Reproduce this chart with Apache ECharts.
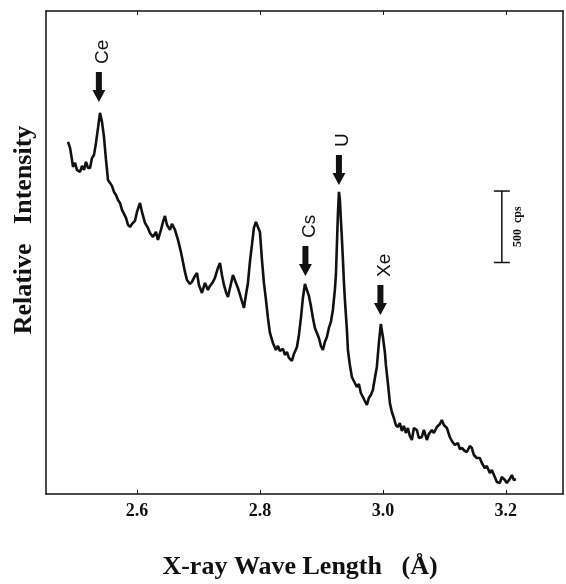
<!DOCTYPE html>
<html>
<head>
<meta charset="utf-8">
<script src="https://cdn.jsdelivr.net/npm/echarts@6/dist/echarts.min.js"></script>
<style>
  html, body { margin: 0; padding: 0; background: #fff; }
  #chart { width: 566px; height: 584px; }
</style>
</head>
<body>
<div id="chart"></div>
<script>
// X-ray wavelength (Å)
const wavelength = [
  2.4878, 2.4911, 2.4943, 2.4959, 2.4992, 2.5024, 2.5073, 2.5106, 2.5138, 2.5171,
  2.5203, 2.5236, 2.5268, 2.5301, 2.5333, 2.5366, 2.5398, 2.5431, 2.5463, 2.5496,
  2.5528, 2.5561, 2.5593, 2.5626, 2.5659, 2.5691, 2.5724, 2.5756, 2.5789, 2.5821,
  2.5854, 2.5886, 2.5919, 2.5967, 2.6000, 2.6049, 2.6081, 2.6130, 2.6179, 2.6211,
  2.6260, 2.6309, 2.6341, 2.6390, 2.6423, 2.6455, 2.6488, 2.6537, 2.6569, 2.6618,
  2.6667, 2.6715, 2.6748, 2.6780, 2.6813, 2.6862, 2.6894, 2.6943, 2.6976, 2.7008,
  2.7057, 2.7106, 2.7154, 2.7187, 2.7236, 2.7268, 2.7317, 2.7350, 2.7382, 2.7415,
  2.7447, 2.7480, 2.7528, 2.7561, 2.7610, 2.7642, 2.7691, 2.7740, 2.7772, 2.7805,
  2.7837, 2.7870, 2.7902, 2.7935, 2.7967, 2.8000, 2.8033, 2.8065, 2.8098, 2.8130,
  2.8163, 2.8211, 2.8260, 2.8293, 2.8325, 2.8374, 2.8406, 2.8439, 2.8472, 2.8520,
  2.8553, 2.8602, 2.8634, 2.8667, 2.8699, 2.8732, 2.8764, 2.8797, 2.8829, 2.8862,
  2.8894, 2.8927, 2.8959, 2.8992, 2.9024, 2.9057, 2.9089, 2.9122, 2.9154, 2.9187,
  2.9219, 2.9236, 2.9252, 2.9268, 2.9285, 2.9301, 2.9317, 2.9333, 2.9350, 2.9366,
  2.9382, 2.9415, 2.9431, 2.9463, 2.9496, 2.9528, 2.9577, 2.9610, 2.9642, 2.9675,
  2.9707, 2.9740, 2.9772, 2.9805, 2.9837, 2.9870, 2.9902, 2.9935, 2.9967, 3.0000,
  3.0032, 3.0049, 3.0081, 3.0114, 3.0146, 3.0179, 3.0211, 3.0244, 3.0276, 3.0309,
  3.0341, 3.0374, 3.0406, 3.0439, 3.0472, 3.0504, 3.0553, 3.0585, 3.0634, 3.0667,
  3.0715, 3.0748, 3.0797, 3.0829, 3.0878, 3.0927, 3.0959, 3.0992, 3.1041, 3.1089,
  3.1122, 3.1171, 3.1219, 3.1252, 3.1285, 3.1333, 3.1366, 3.1415, 3.1447, 3.1480,
  3.1528, 3.1577, 3.1610, 3.1658, 3.1691, 3.1740, 3.1772, 3.1821, 3.1854, 3.1902,
  3.1935, 3.1984, 3.2016, 3.2065, 3.2098, 3.2130, 3.2163
];

// relative intensity (cps)
const intensity = [
  2464, 2422, 2338, 2289, 2317, 2268, 2254, 2296, 2268, 2324,
  2282, 2282, 2352, 2373, 2457, 2562, 2667, 2604, 2499, 2338,
  2198, 2177, 2156, 2114, 2093, 2058, 2037, 1988, 1960, 1932,
  1883, 1869, 1890, 1911, 1974, 2037, 1974, 1897, 1862, 1827,
  1799, 1834, 1778, 1848, 1904, 1946, 1883, 1848, 1890, 1848,
  1778, 1694, 1624, 1554, 1498, 1470, 1484, 1526, 1547, 1463,
  1407, 1477, 1428, 1456, 1484, 1512, 1582, 1617, 1533, 1463,
  1414, 1379, 1470, 1533, 1477, 1442, 1372, 1302, 1393, 1477,
  1624, 1743, 1862, 1904, 1869, 1834, 1638, 1477, 1358, 1232,
  1127, 1057, 1008, 1036, 1001, 1015, 973, 994, 952, 931,
  980, 1029, 1113, 1232, 1372, 1470, 1428, 1386, 1316, 1232,
  1162, 1127, 1092, 1036, 1008, 1064, 1099, 1162, 1204, 1288,
  1428, 1533, 1743, 1953, 2114, 2058, 1918, 1792, 1638, 1484,
  1358, 1148, 1008, 903, 819, 791, 749, 770, 707, 679,
  651, 623, 672, 693, 728, 812, 889, 1057, 1190, 1099,
  994, 903, 777, 637, 574, 532, 483, 469, 497, 441,
  476, 427, 462, 406, 378, 462, 448, 392, 399, 448,
  378, 420, 448, 427, 469, 490, 518, 483, 462, 399,
  371, 343, 357, 315, 322, 301, 294, 336, 322, 273,
  252, 252, 217, 182, 196, 147, 168, 119, 84, 77,
  119, 98, 77, 105, 133, 98, 105
];

// element peaks: name, wavelength, arrow tip intensity
const peakNames = ['Ce', 'Cs', 'U', 'Xe'];
const peakX = [2.538, 2.874, 2.9285, 2.996];
const arrowTipY = [2744, 1526, 2163, 1253];

// scale bar (500 cps)
const scaleBarX = [3.1935];
const scaleBarFrom = [1620];
const scaleBarTo = [2120];

const tickValues = [2.6, 2.8, 3.0, 3.2];

const chart = echarts.init(document.getElementById('chart'));

const serif = '"Liberation Serif", "Times New Roman", serif';
const sans = '"Liberation Sans", Arial, sans-serif';

const lineData = wavelength.map((w, i) => [w, intensity[i]]);
const arrowData = peakNames.map((n, i) => [peakX[i], arrowTipY[i], n]);
const barData = scaleBarX.map((x, i) => [x, scaleBarFrom[i], scaleBarTo[i]]);

function renderArrow(params, api) {
    const tip = api.coord([api.value(0), api.value(1)]);
    const name = peakNames[params.dataIndex];
    const len = 30, headLen = 12, headW = 6.5, shaftW = 3;
    const x = tip[0], y = tip[1];
    return {
        type: 'group',
        children: [
            {
                type: 'polygon',
                shape: {
                    points: [
                        [x - shaftW, y - len], [x + shaftW, y - len],
                        [x + shaftW, y - headLen], [x + headW, y - headLen],
                        [x, y], [x - headW, y - headLen],
                        [x - shaftW, y - headLen]
                    ]
                },
                style: { fill: '#111' }
            },
            {
                type: 'text',
                x: x + 4,
                y: y - len - 8,
                rotation: Math.PI / 2,
                style: {
                    text: name,
                    fontFamily: sans,
                    fontSize: 19,
                    fill: '#111',
                    align: 'left',
                    verticalAlign: 'middle'
                }
            }
        ]
    };
}

function renderScaleBar(params, api) {
    const p1 = api.coord([api.value(0), api.value(1)]);
    const p2 = api.coord([api.value(0), api.value(2)]);
    const x = p1[0];
    const st = { stroke: '#111', lineWidth: 1.5 };
    return {
        type: 'group',
        children: [
            { type: 'line', shape: { x1: x, y1: p1[1], x2: x, y2: p2[1] }, style: st },
            { type: 'line', shape: { x1: x - 8, y1: p1[1], x2: x + 8, y2: p1[1] }, style: st },
            { type: 'line', shape: { x1: x - 8, y1: p2[1], x2: x + 8, y2: p2[1] }, style: st },
            {
                type: 'text',
                x: x + 16,
                y: (p1[1] + p2[1]) / 2,
                rotation: Math.PI / 2,
                style: {
                    text: '500  cps',
                    fontFamily: serif,
                    fontWeight: 'bold',
                    fontSize: 12,
                    fill: '#111',
                    align: 'center',
                    verticalAlign: 'middle'
                }
            }
        ]
    };
}

const option = {
    animation: false,
    backgroundColor: '#fff',
    grid: { left: 46, right: 3, top: 11, bottom: 90 },
    xAxis: [
        {
            type: 'value',
            min: 2.452,
            max: 3.293,
            position: 'bottom',
            axisLine: { onZero: false, lineStyle: { color: '#111', width: 1.5 } },
            axisTick: { inside: true, length: 4, customValues: tickValues, lineStyle: { color: '#111' } },
            axisLabel: {
                customValues: tickValues,
                formatter: v => v.toFixed(1),
                color: '#111',
                fontFamily: serif,
                fontWeight: 'bold',
                fontSize: 18,
                margin: 8
            },
            splitLine: { show: false }
        },
        {
            type: 'value',
            min: 2.452,
            max: 3.293,
            position: 'top',
            axisLine: { onZero: false, lineStyle: { color: '#111', width: 1.5 } },
            axisTick: { inside: true, length: 4, customValues: tickValues, lineStyle: { color: '#111' } },
            axisLabel: { show: false },
            splitLine: { show: false }
        }
    ],
    yAxis: [
        {
            type: 'value',
            min: 0,
            max: 3380,
            axisLine: { show: true, onZero: false, lineStyle: { color: '#111', width: 1.5 } },
            axisTick: { show: false },
            axisLabel: { show: false },
            splitLine: { show: false }
        },
        {
            type: 'value',
            position: 'right',
            min: 0,
            max: 1,
            axisLine: { show: true, onZero: false, lineStyle: { color: '#111', width: 1.5 } },
            axisTick: { show: false },
            axisLabel: { show: false },
            splitLine: { show: false }
        }
    ],
    graphic: [
        {
            type: 'text',
            x: 24,
            y: 230,
            rotation: Math.PI / 2,
            style: {
                text: 'Relative   Intensity',
                fontFamily: serif,
                fontWeight: 'bold',
                fontSize: 26,
                fill: '#111',
                align: 'center',
                verticalAlign: 'middle'
            }
        },
        {
            type: 'text',
            x: 300,
            y: 567,
            style: {
                text: 'X-ray Wave Length   (Å)',
                fontFamily: serif,
                fontWeight: 'bold',
                fontSize: 26,
                fill: '#111',
                align: 'center',
                verticalAlign: 'middle'
            }
        }
    ],
    series: [
        {
            type: 'line',
            data: lineData,
            showSymbol: false,
            lineStyle: { color: '#111', width: 2.6 },
            silent: true
        },
        {
            type: 'custom',
            data: arrowData,
            encode: { x: 0, y: 1 },
            renderItem: renderArrow,
            silent: true
        },
        {
            type: 'custom',
            data: barData,
            encode: { x: 0, y: [1, 2] },
            renderItem: renderScaleBar,
            silent: true
        }
    ]
};

chart.setOption(option);
</script>
</body>
</html>
